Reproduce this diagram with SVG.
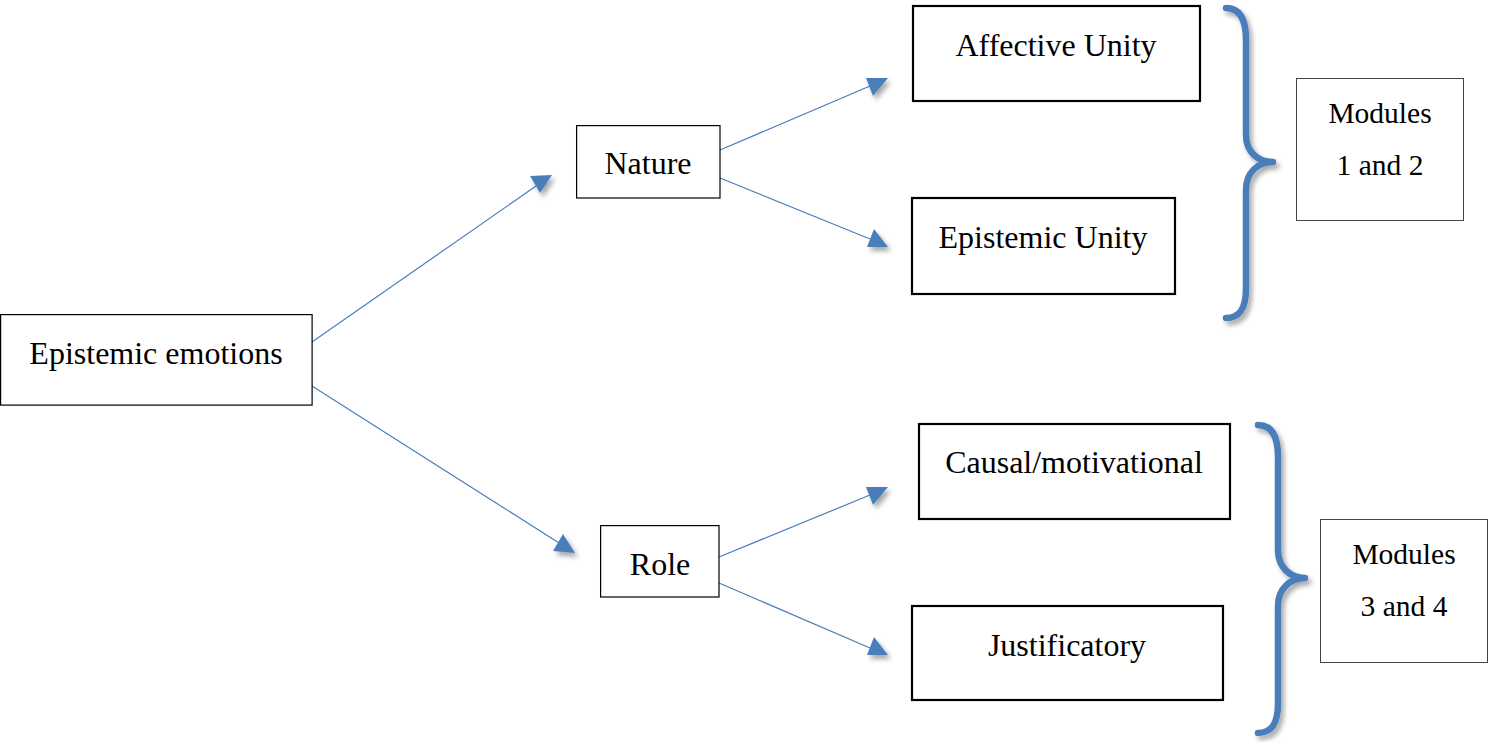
<svg xmlns="http://www.w3.org/2000/svg" width="1489" height="742" viewBox="0 0 1489 742">
<style>
.box{fill:#fff;stroke:#000;stroke-width:1.2}
.bold{fill:#fff;stroke:#000;stroke-width:2.2}
.thin{fill:#fff;stroke:#444;stroke-width:1}
.t{font-family:"Liberation Serif","Times New Roman",serif;font-size:32px;fill:#000;text-anchor:middle}
.m{font-family:"Liberation Serif","Times New Roman",serif;font-size:29.5px;fill:#000;text-anchor:middle}
.c{stroke:#4a7ebb;stroke-width:1.2;fill:none}
.brace{stroke:#4a7ebb;stroke-width:6.5;fill:none;stroke-linecap:round;stroke-linejoin:round}
</style>
<defs>
<filter id="sh" x="-50%" y="-50%" width="200%" height="200%">
<feGaussianBlur in="SourceAlpha" stdDeviation="2.5"/>
<feOffset dx="3" dy="4" result="b"/>
<feComponentTransfer><feFuncA type="linear" slope="0.35"/></feComponentTransfer>
<feMerge><feMergeNode/><feMergeNode in="SourceGraphic"/></feMerge>
</filter>
</defs>
<g id="connectors">
<line class="c" x1="312" y1="342" x2="536" y2="186"/>
<line class="c" x1="312" y1="386" x2="559" y2="543"/>
<line class="c" x1="720" y1="150" x2="870" y2="86"/>
<line class="c" x1="720" y1="178" x2="870" y2="239"/>
<line class="c" x1="719" y1="557" x2="870" y2="495"/>
<line class="c" x1="719" y1="583" x2="870" y2="648"/>
<g fill="#4a7ebb" filter="url(#sh)">
<polygon points="552,175 530,176 540,193"/>
<polygon points="575,553 563,534 553,551"/>
<polygon points="888,78 866,78 873,96"/>
<polygon points="888,247 874,229 867,247"/>
<polygon points="888,487 866,487 873,505"/>
<polygon points="888,655 874,637 867,655"/>
</g>
</g>
<g id="brace1" filter="url(#sh)">
<path class="brace" d="M1226,8 C1240,8 1246,20 1246,40 L1246,135 C1246,152 1258,162 1273,162 C1258,162 1246,172 1246,190 L1246,288 C1246,308 1240,318 1226,318"/>
</g>
<g id="brace2" filter="url(#sh)">
<path class="brace" d="M1258,425 C1272,425 1278,437 1278,457 L1278,550 C1278,567 1290,578 1305,578 C1290,578 1278,589 1278,606 L1278,703 C1278,723 1272,733 1258,733"/>
</g>
<g id="n-emotions">
<rect class="box" x="0.6" y="314.6" width="311.5" height="90.5"/>
<text class="t" x="156" y="364">Epistemic emotions</text>
</g>
<g id="n-nature">
<rect class="box" x="576.6" y="125.6" width="143.4" height="72.4"/>
<text class="t" x="648" y="174">Nature</text>
</g>
<g id="n-role">
<rect class="box" x="600.6" y="525.6" width="118.4" height="71.4"/>
<text class="t" x="660" y="575">Role</text>
</g>
<g id="n-affective">
<rect class="bold" x="913" y="6" width="287" height="95"/>
<text class="t" x="1056" y="56">Affective Unity</text>
</g>
<g id="n-epistemic">
<rect class="bold" x="912" y="198" width="263" height="96"/>
<text class="t" x="1043" y="248">Epistemic Unity</text>
</g>
<g id="n-causal">
<rect class="bold" x="919" y="424" width="311" height="95"/>
<text class="t" x="1074" y="473">Causal/motivational</text>
</g>
<g id="n-justificatory">
<rect class="bold" x="912" y="606" width="311" height="94"/>
<text class="t" x="1067" y="656">Justificatory</text>
</g>
<g id="n-modules12">
<rect class="thin" x="1296.5" y="78.5" width="167" height="142"/>
<text class="m" x="1380" y="123">Modules</text>
<text class="m" x="1380" y="175">1 and 2</text>
</g>
<g id="n-modules34">
<rect class="thin" x="1320.5" y="519.5" width="167" height="143"/>
<text class="m" x="1404" y="564">Modules</text>
<text class="m" x="1404" y="616">3 and 4</text>
</g>
</svg>
